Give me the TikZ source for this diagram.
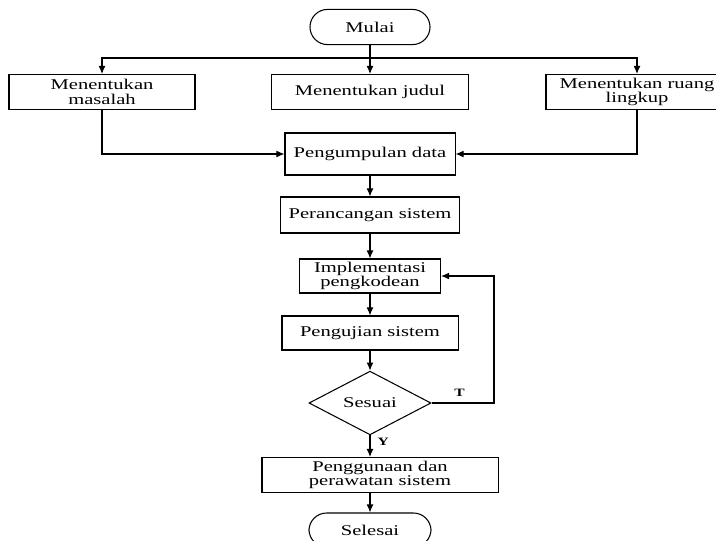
\documentclass[tikz,border=0pt]{standalone}
\usepackage{fontspec}
\setmainfont{Liberation Serif}[FakeStretch=1.38]
\usepackage{tikz}
\usetikzlibrary{shapes.geometric,arrows.meta}

\begin{document}
\begin{tikzpicture}[x=0.025cm,y=-0.025cm,line width=0.75pt,>={Latex[length=2mm,width=1.7mm]},
  every node/.style={font=\fontsize{10.6}{10.4}\selectfont,inner sep=0pt,align=center},
  proses/.style={draw,rectangle,minimum height=0.875cm},
  terminal/.style={draw,rectangle,rounded corners=0.44cm,minimum width=3.05cm,minimum height=0.88cm},
  keputusan/.style={draw,diamond,minimum width=3.05cm,minimum height=1.25cm},
  jawab/.style={font=\fontsize{8}{9}\selectfont\bfseries}]
\clip (0,0) rectangle (716,540);
\node [terminal,minimum width=3cm] (mulai) at (370,27) {Mulai};
\node [proses,minimum width=4.65cm] (masalah) at (102,92) {Menentukan\\masalah};
\node [proses,minimum width=4.925cm] (judul) at (370,92) {Menentukan judul};
\node [proses,minimum width=4.55cm] (ruang) at (637,92) {Menentukan ruang\\lingkup};
\node [proses,minimum width=4.25cm,minimum height=1.05cm] (data) at (370,154) {Pengumpulan data};
\node [proses,minimum width=4.475cm,minimum height=0.9cm] (rancang) at (370,215) {Perancangan sistem};
\node [proses,minimum width=3.525cm,minimum height=0.85cm] (kode) at (370,276) {Implementasi\\pengkodean};
\node [proses,minimum width=4.4cm,minimum height=0.85cm] (uji) at (370,333) {Pengujian sistem};
\node [keputusan] (sesuai) at (370,403) {Sesuai};
\node [proses,minimum width=5.9cm] (rawat) at (380,475) {Penggunaan dan\\perawatan sistem};
\node [terminal,minimum height=0.85cm] (selesai) at (370,530) {Selesai};
\coordinate (cabang) at (370,58);
\coordinate (balik) at (494,403);
\draw (mulai) -- (cabang);
\draw [->] (cabang) -| (masalah);
\draw [->] (cabang) -- (judul);
\draw [->] (cabang) -| (ruang);
\draw [->] (masalah) |- (data);
\draw [->] (ruang) |- (data);
\draw [->] (data) -- (rancang);
\draw [->] (rancang) -- (kode);
\draw [->] (kode) -- (uji);
\draw [->] (uji) -- (sesuai);
\draw [->] (sesuai.south) -- (sesuai.south |- rawat.north) node [jawab,pos=0.3,right=5pt] {Y};
\draw [->] (sesuai.east) -- (balik) node [jawab,pos=0.45,above=4pt] {T} |- (kode.east);
\draw [->] (rawat.south -| selesai) -- (selesai);
\end{tikzpicture}
\end{document}
